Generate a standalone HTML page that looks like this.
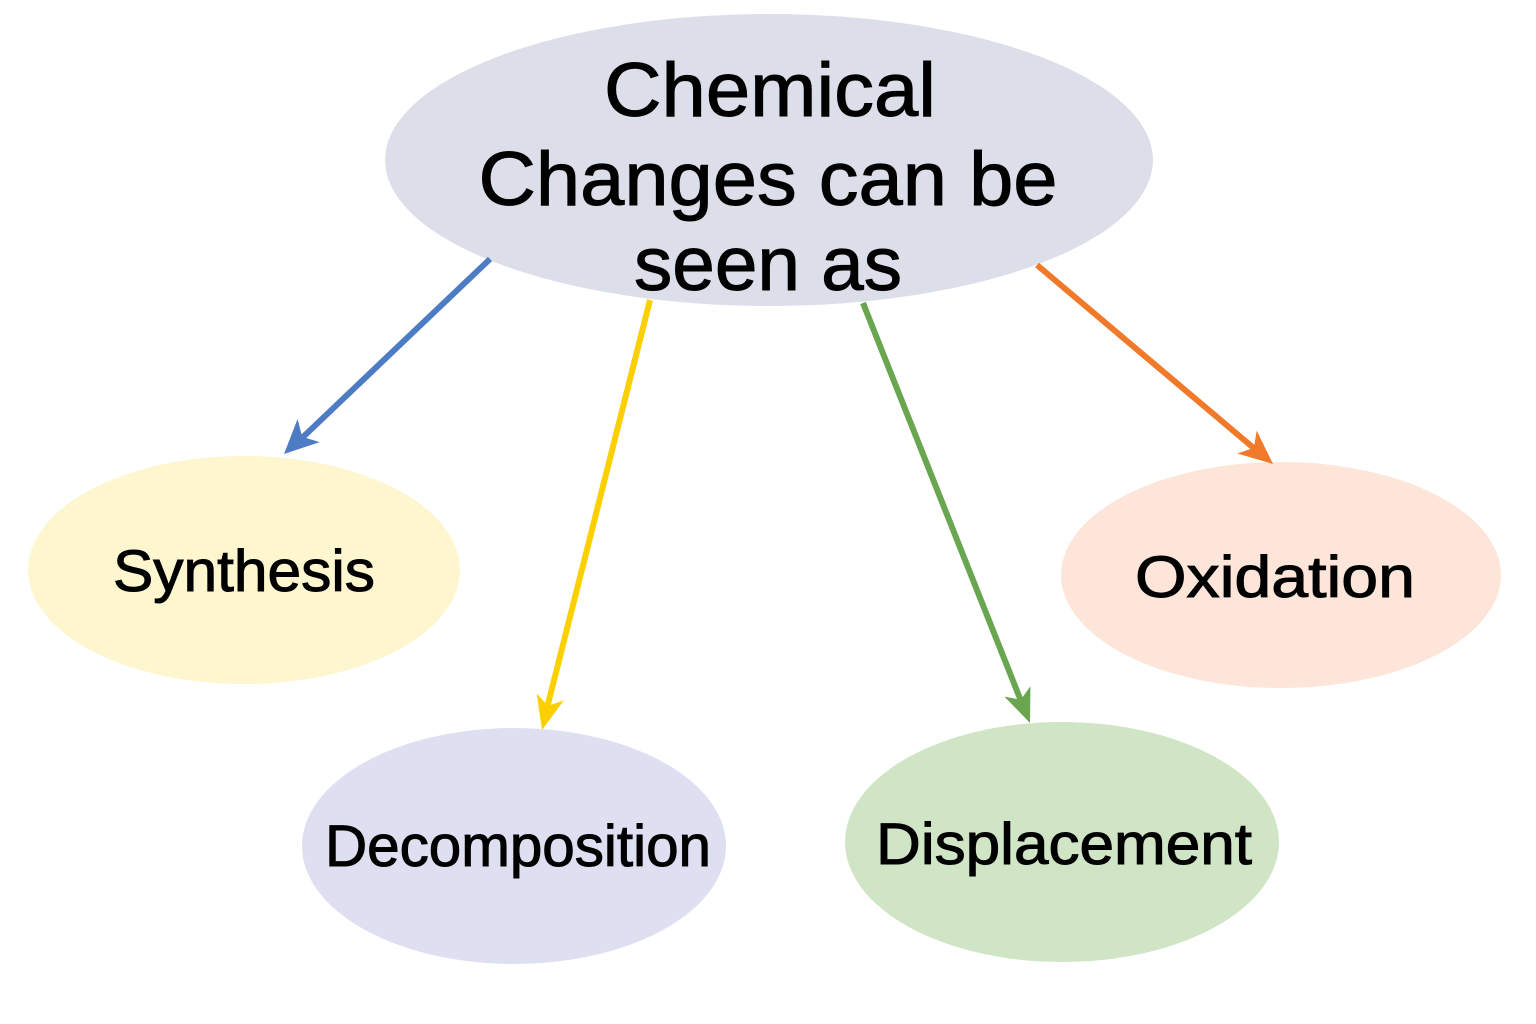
<!DOCTYPE html>
<html><head><meta charset="utf-8"><style>
html,body{margin:0;padding:0;background:#fff;}
svg{display:block;}
text{font-family:"Liberation Sans","DejaVu Sans",sans-serif;fill:#000;stroke:#000;stroke-width:1;}
</style></head><body>
<svg width="1536" height="1024" viewBox="0 0 1536 1024" xmlns="http://www.w3.org/2000/svg">
<ellipse cx="769" cy="160" rx="384" ry="146" fill="#dcdfe9"/>
<ellipse cx="244" cy="570" rx="216" ry="114" fill="#fdf6cf"/>
<ellipse cx="514" cy="846" rx="212" ry="118" fill="#dedff1"/>
<ellipse cx="1062" cy="842" rx="217" ry="120" fill="#d0e5c5"/>
<ellipse cx="1281" cy="575" rx="220" ry="113" fill="#fde6d9"/>
<g stroke-width="6" stroke-linecap="butt">
<line x1="490" y1="259" x2="302" y2="438" stroke="#4e7cc4"/>
<line x1="650" y1="300" x2="547" y2="708" stroke="#fcd000"/>
<line x1="863" y1="303" x2="1021" y2="701" stroke="#6aa650"/>
<line x1="1037" y1="265" x2="1256" y2="450" stroke="#f07a2a"/>
</g>
<g transform="translate(284,454) rotate(136.4)"><path d="M0 0 L-34 -16 L-25 0 L-34 16 Z" fill="#4e7cc4"/></g>
<g transform="translate(542,730) rotate(104.1)"><path d="M0 0 L-34 -14 L-25 0 L-34 14 Z" fill="#fcd000"/></g>
<g transform="translate(1030,723) rotate(68.3)"><path d="M0 0 L-34 -14 L-25 0 L-34 14 Z" fill="#6aa650"/></g>
<g transform="translate(1273,464) rotate(40.2)"><path d="M0 0 L-34 -15 L-25 0 L-34 15 Z" fill="#f07a2a"/></g>
<text x="770" y="116" font-size="76" text-anchor="middle" textLength="332" lengthAdjust="spacingAndGlyphs">Chemical</text>
<text x="768" y="205" font-size="76" text-anchor="middle" textLength="579" lengthAdjust="spacingAndGlyphs">Changes can be</text>
<text x="768" y="290" font-size="76" text-anchor="middle" textLength="268" lengthAdjust="spacingAndGlyphs">seen as</text>
<text x="244" y="591" font-size="58" text-anchor="middle" textLength="262" lengthAdjust="spacingAndGlyphs">Synthesis</text>
<text x="518" y="866" font-size="58" text-anchor="middle" textLength="386" lengthAdjust="spacingAndGlyphs">Decomposition</text>
<text x="1064" y="864" font-size="58" text-anchor="middle" textLength="376" lengthAdjust="spacingAndGlyphs">Displacement</text>
<text x="1275" y="597" font-size="58" text-anchor="middle" textLength="280" lengthAdjust="spacingAndGlyphs">Oxidation</text>
</svg>
</body></html>
